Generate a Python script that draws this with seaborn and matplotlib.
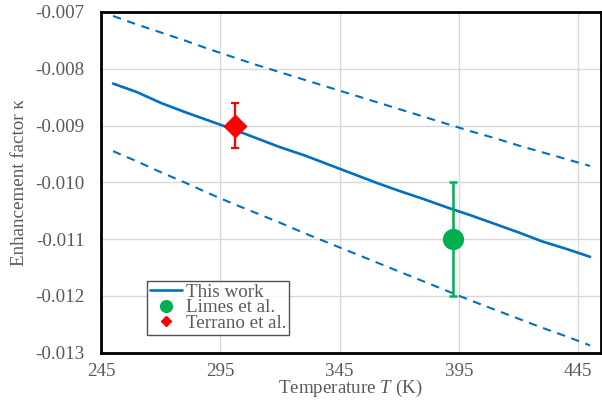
import matplotlib
matplotlib.use("Agg")
import matplotlib.pyplot as plt
from matplotlib.lines import Line2D
import seaborn as sns
import pandas as pd

# Temperature grid (K) for the model curves
temperature = [250, 260, 270, 280, 290, 300, 310, 320, 330, 340, 350,
               360, 370, 380, 390, 400, 410, 420, 430, 440, 450]

# Enhancement factor: central estimate and upper / lower bounds
kappa_this_work = [-0.00826, -0.00841, -0.00860, -0.00876, -0.00891, -0.00906,
                   -0.00922, -0.00938, -0.00952, -0.00968, -0.00984, -0.01000,
                   -0.01015, -0.01029, -0.01044, -0.01058, -0.01073, -0.01088,
                   -0.01104, -0.01117, -0.01131]
kappa_upper = [-0.00707, -0.00722, -0.00736, -0.00750, -0.00765, -0.00779,
               -0.00793, -0.00806, -0.00819, -0.00832, -0.00845, -0.00858,
               -0.00871, -0.00884, -0.00897, -0.00910, -0.00922, -0.00935,
               -0.00947, -0.00959, -0.00971]
kappa_lower = [-0.00945, -0.00963, -0.00982, -0.01000, -0.01019, -0.01037,
               -0.01054, -0.01071, -0.01089, -0.01106, -0.01123, -0.01140,
               -0.01157, -0.01174, -0.01191, -0.01208, -0.01224, -0.01240,
               -0.01256, -0.01271, -0.01287]

# Experimental points
limes_T = [392.5]
limes_kappa = [-0.0110]
limes_err = [0.0010]
terrano_T = [301.0]
terrano_kappa = [-0.0090]
terrano_err = [0.0004]

x_ticks = [245, 295, 345, 395, 445]
y_ticks = [-0.013, -0.012, -0.011, -0.010, -0.009, -0.008, -0.007]
y_tick_labels = ["-0.013", "-0.012", "-0.011", "-0.010", "-0.009", "-0.008", "-0.007"]

BLUE = "#0070C0"
GREEN = "#00B050"
RED = "#FF0000"
TEXT = "#595959"
FS = 13.7

sns.set_theme(style="white")
plt.rcParams["font.family"] = ["Liberation Serif", "DejaVu Serif"]
plt.rcParams["mathtext.fontset"] = "custom"
plt.rcParams["mathtext.it"] = "Liberation Serif:italic"
plt.rcParams["mathtext.rm"] = "Liberation Serif"

df = pd.DataFrame({"T": temperature, "mid": kappa_this_work,
                   "up": kappa_upper, "lo": kappa_lower})

fig = plt.figure(figsize=(6.02, 4.0), dpi=100)
ax = fig.add_axes([0.168, 0.118, 0.830, 0.852])

sns.lineplot(data=df, x="T", y="mid", ax=ax, color=BLUE, linewidth=1.9, zorder=3)
sns.lineplot(data=df, x="T", y="up", ax=ax, color=BLUE, linewidth=1.5,
             zorder=3).lines[-1].set_dashes((4, 3.2))
sns.lineplot(data=df, x="T", y="lo", ax=ax, color=BLUE, linewidth=1.5,
             zorder=3).lines[-1].set_dashes((4, 3.2))

ax.errorbar(limes_T, limes_kappa, yerr=limes_err, fmt="none", ecolor=GREEN,
            elinewidth=1.8, capsize=3, capthick=1.8, zorder=4)
sns.scatterplot(x=limes_T, y=limes_kappa, ax=ax, color=GREEN, s=200,
                marker="o", edgecolor=GREEN, zorder=5)
ax.errorbar(terrano_T, terrano_kappa, yerr=terrano_err, fmt="none", ecolor=RED,
            elinewidth=1.6, capsize=3, capthick=1.6, zorder=4)
sns.scatterplot(x=terrano_T, y=terrano_kappa, ax=ax, color=RED, s=130,
                marker="D", edgecolor=RED, zorder=5)

ax.set_xlim(245, 454.5)
ax.set_ylim(-0.013, -0.007)
ax.set_xticks(x_ticks)
ax.set_yticks(y_ticks)
ax.set_yticklabels(y_tick_labels)
ax.tick_params(axis="both", length=0, labelsize=FS, labelcolor=TEXT)
ax.tick_params(axis="y", pad=12)
ax.tick_params(axis="x", pad=7)
ax.grid(True, color="#D9D9D9", linewidth=1.0)
ax.set_axisbelow(True)
for sp in ax.spines.values():
    sp.set_color("black")
    sp.set_linewidth(2.0)

ax.set_xlabel("Temperature $T$ (K)", fontsize=FS, color=TEXT)
ax.xaxis.set_label_coords(0.499, -0.074)
ax.set_ylabel("Enhancement factor κ", fontsize=FS, color=TEXT, labelpad=5)

handles = [
    Line2D([], [], color=BLUE, linewidth=1.9),
    Line2D([], [], linestyle="none", marker="o", color=GREEN, markersize=8.5),
    Line2D([], [], linestyle="none", marker="D", color=RED, markersize=5.5),
]
leg = ax.legend(handles, ["This work", "Limes et al.", "Terrano et al."],
                loc="lower left", bbox_to_anchor=(0.092, 0.053), borderaxespad=0,
                frameon=True, fancybox=False, fontsize=FS, handlelength=1.7,
                handletextpad=0.2, labelspacing=-0.1, borderpad=0.15,
                labelcolor=TEXT)
leg.get_frame().set_edgecolor("#262626")
leg.get_frame().set_linewidth(1.0)

fig.savefig("out.png", dpi=100)
